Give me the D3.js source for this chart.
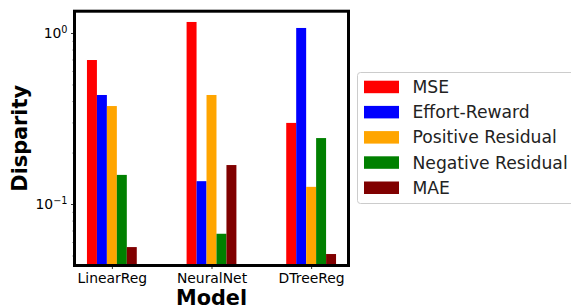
<!DOCTYPE html>
<html lang="en">
  <head>
    <meta charset="utf-8">
    <title>Disparity by model</title>
    <script src="https://d3js.org/d3.v7.min.js"></script>
    <style>
      body { margin: 0; background: #fff; }
      svg { display: block; font-family: "DejaVu Sans", sans-serif; }
    </style>
  </head>

  <body>
    <svg></svg>

  <script>

// Data

  var models = ["LinearReg", "NeuralNet", "DTreeReg"];
  var metrics = ["MSE", "Effort-Reward", "Positive Residual", "Negative Residual", "MAE"];
  var colors = ["#ff0000", "#0000ff", "#ffa500", "#008000", "#800000"];

  var mse          = [0.695, 1.16, 0.298];
  var effortReward = [0.434, 0.136, 1.07];
  var posResidual  = [0.374, 0.434, 0.126];
  var negResidual  = [0.148, 0.067, 0.243];
  var mae          = [0.056, 0.169, 0.051];

  var majorTicks = [0.1, 1];
  var majorExp = ["\u22121", "0"];
  var minorTicks = [0.05, 0.06, 0.07, 0.08, 0.09, 0.2, 0.3, 0.4, 0.5, 0.6, 0.7, 0.8, 0.9];

  var series = [mse, effortReward, posResidual, negResidual, mae];

  var w = 571;
  var h = 306;
  var margin = {top: 11.2, left: 74.5, right: 222.5, bottom: 40.5};
  var innerWidth = w - margin.left - margin.right;
  var innerHeight = h - margin.top - margin.bottom;

  var svg = d3.select("svg")
      .attr("width", w)
      .attr("height", h);

// Scales: categories at 0,1,2 with bar width 0.1, like the source plot

  var xScale = d3.scaleLinear()
      .domain([-0.375, 2.375])
      .range([0, innerWidth]);

  var yScale = d3.scaleLog()
      .domain([0.0437, 1.341])
      .range([innerHeight, 0]);

  var barW = 0.1;

  var bars = [];
  models.forEach(function(m, i) {
    series.forEach(function(s, j) {
      bars.push({model: i, metric: j, value: s[i]});
    });
  });

  var plot = svg.append("g")
      .attr("transform", `translate(${margin.left}, ${margin.top})`);

  plot.selectAll("rect.bar")
      .data(bars)
    .enter().append("rect")
      .attr("class", "bar")
      .attr("x", d => xScale(d.model + (d.metric - 2.5) * barW))
      .attr("width", xScale(barW) - xScale(0))
      .attr("y", d => yScale(d.value))
      .attr("height", d => innerHeight - yScale(d.value))
      .attr("fill", d => colors[d.metric]);

// Axes

  var xAxis = d3.axisBottom(xScale)
      .tickValues([0, 1, 2])
      .tickFormat((d, i) => models[i])
      .tickSize(3.5)
      .tickPadding(4);

  var gx = plot.append("g")
      .attr("transform", `translate(0, ${innerHeight})`)
      .call(xAxis);

  gx.select(".domain").remove();
  gx.selectAll("line").attr("stroke", "#000").attr("stroke-width", 0.8);
  gx.selectAll("text")
      .attr("font-size", "13.9px")
      .attr("fill", "#000")
      .attr("font-family", "DejaVu Sans");

  var yMinor = d3.axisLeft(yScale)
      .tickValues(minorTicks)
      .tickFormat("")
      .tickSize(2);

  var gym = plot.append("g").call(yMinor);
  gym.select(".domain").remove();
  gym.selectAll("line").attr("stroke", "#000").attr("stroke-width", 0.6);

  var yAxis = d3.axisLeft(yScale)
      .tickValues(majorTicks)
      .tickFormat("")
      .tickSize(3.5)
      .tickPadding(4);

  var gy = plot.append("g").call(yAxis);
  gy.select(".domain").remove();
  gy.selectAll("line").attr("stroke", "#000").attr("stroke-width", 0.8);

  // 10^k labels with a raised exponent
  gy.selectAll(".tick text")
      .attr("font-size", "13.9px")
      .attr("fill", "#000")
      .attr("font-family", "DejaVu Sans")
      .attr("x", -7)
      .attr("dy", "0.3em")
      .each(function(d, i) {
        var t = d3.select(this);
        t.append("tspan").text("10");
        t.append("tspan")
            .attr("dy", "-0.45em")
            .attr("font-size", "9.7px")
            .text(majorExp[i]);
      });

// Frame

  plot.append("rect")
      .attr("x", 0)
      .attr("y", 0)
      .attr("width", innerWidth)
      .attr("height", innerHeight)
      .attr("fill", "none")
      .attr("stroke", "#000")
      .attr("stroke-width", 3);

// Axis titles

  svg.append("text")
      .attr("x", margin.left + innerWidth / 2)
      .attr("y", 304.5)
      .attr("text-anchor", "middle")
      .attr("font-size", "20.8px")
      .attr("font-weight", "bold")
      .text("Model");

  svg.append("text")
      .attr("transform", `translate(26.5, ${margin.top + innerHeight / 2}) rotate(-90)`)
      .attr("text-anchor", "middle")
      .attr("font-size", "20.8px")
      .attr("font-weight", "bold")
      .text("Disparity");

// Legend

  var legend = svg.append("g")
      .attr("transform", "translate(357.5, 72.5)");

  legend.append("rect")
      .attr("width", 240)
      .attr("height", 131)
      .attr("rx", 3)
      .attr("fill", "#fff")
      .attr("stroke", "#cccccc")
      .attr("stroke-width", 1);

  var items = legend.selectAll("g.item")
      .data(metrics)
    .enter().append("g")
      .attr("class", "item")
      .attr("transform", (d, i) => `translate(0, ${14.2 + i * 25.2})`);

  items.append("rect")
      .attr("x", 6.5)
      .attr("y", -6)
      .attr("width", 35)
      .attr("height", 12.5)
      .attr("fill", (d, i) => colors[i]);

  items.append("text")
      .attr("x", 55)
      .attr("dy", "0.36em")
      .attr("font-size", "17.2px")
      .attr("fill", "#222")
      .text(d => d);

    </script>

  </body>

</html>
